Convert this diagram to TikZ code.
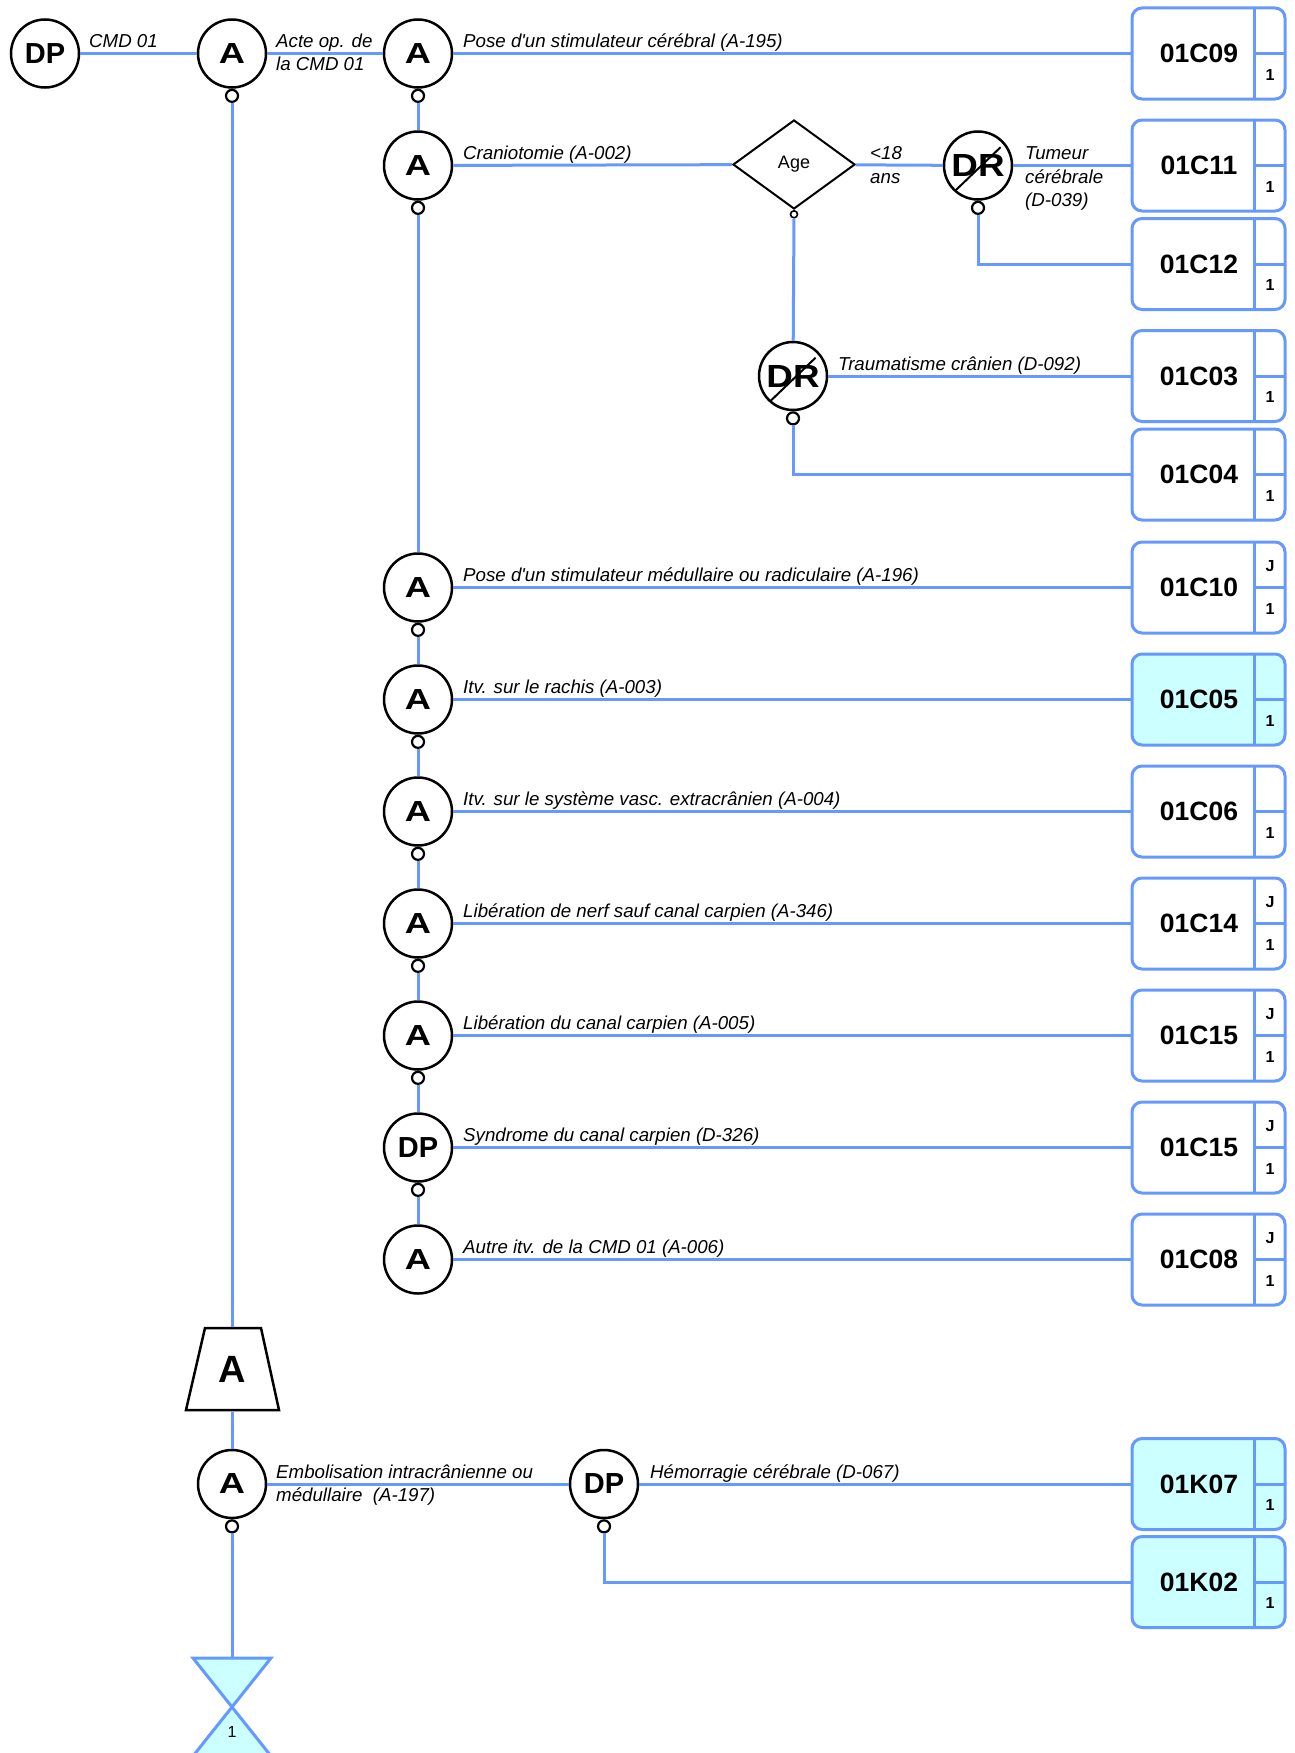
\documentclass[tikz,border=0pt]{standalone}
\usepackage{fontspec}
\usepackage{graphicx}
\setmainfont{Liberation Sans}
\usetikzlibrary{shapes.geometric,calc}
\definecolor{lb}{HTML}{6699FF}
\definecolor{cy}{HTML}{CCFFFF}
\newcommand\gbx[5]{%
  \node[gbox, fill=#5] (#1) at (1208.5,#2) {};
  \draw[boxline] (1254,{#2-45.5}) -- (1254,{#2+45.5});
  \draw[boxline] (1254,#2) -- (1285,#2);
  \node[boxtxt] (#1-t) at (1199,#2) {#3};
  \node[smalltxt] (#1-n) at (1270,{#2+21}) {1};
  \node[smalltxt] (#1-j) at (1270,{#2-21}) {#4};
}
\newcommand\Aletter{\scalebox{1.25}[1]{A}}
\newcommand\DRletters{\scalebox{1.15}[1]{DR}}
\begin{document}
\begin{tikzpicture}[x=1pt,y=-1pt,
  conn/.style={draw=lb, line width=3pt},
  boxline/.style={draw=lb, line width=3pt},
  anode/.style={circle, draw=black, line width=2.5pt, minimum size=68pt, inner sep=0pt, fill=white, font=\fontsize{29}{29}\selectfont\bfseries},
  drnode/.style={anode, font=\fontsize{32}{32}\selectfont\bfseries},
  knob/.style={circle, draw=black, line width=2.2pt, minimum size=12pt, inner sep=0pt, fill=white, anchor=north},
  tinyknob/.style={circle, draw=black, line width=1.6pt, minimum size=7pt, inner sep=0pt, fill=white, anchor=north},
  lab/.style={anchor=base west, inner sep=0pt, font=\fontsize{18.7}{23.5}\selectfont\itshape},
  gbox/.style={draw=lb, line width=3pt, rounded corners=10pt, minimum width=153pt, minimum height=91pt, inner sep=0pt},
  boxtxt/.style={inner sep=0pt, font=\fontsize{26.5}{27}\selectfont\bfseries},
  smalltxt/.style={inner sep=0pt, font=\fontsize{16}{16}\selectfont\bfseries},
  slash/.style={draw=black, line width=2pt}
]
\useasboundingbox[fill=white] (0,0) rectangle (1295,1753);

% ---------- boxes ----------
\gbx{b09}{53.5}{01C09}{\mbox{}}{white}
\gbx{b11}{165.5}{01C11}{\mbox{}}{white}
\gbx{b12}{264}{01C12}{\mbox{}}{white}
\gbx{b03}{376}{01C03}{\mbox{}}{white}
\gbx{b04}{474.5}{01C04}{\mbox{}}{white}
\gbx{b10}{587.5}{01C10}{J}{white}
\gbx{b05}{699.5}{01C05}{\mbox{}}{cy}
\gbx{b06}{811.5}{01C06}{\mbox{}}{white}
\gbx{b14}{923.5}{01C14}{J}{white}
\gbx{b15a}{1035.5}{01C15}{J}{white}
\gbx{b15b}{1147.5}{01C15}{J}{white}
\gbx{b08}{1259.5}{01C08}{J}{white}
\gbx{bk07}{1484}{01K07}{\mbox{}}{cy}
\gbx{bk02}{1582}{01K02}{\mbox{}}{cy}

% ---------- top row ----------
\node[anode] (dp0) at (45,53.5) {DP};
\node[anode] (a1) at (232,53.5) {\Aletter};
\node[knob] (a1k) at (a1.south) {};
\node[anode] (a2) at (418,53.5) {\Aletter};
\node[knob] (a2k) at (a2.south) {};
\draw[conn] (dp0) -- (a1);
\draw[conn] (a1) -- (a2);
\draw[conn] (a2) -- (b09);
\node[lab] (l0) at (89,47.5) {CMD 01};
\node[lab] (l1) at (276,47.5) {\begin{tabular}[t]{@{}l@{}}Acte op. de\\la CMD 01\end{tabular}};
\node[lab] (l2) at (463,47.5) {Pose d\textquotesingle un stimulateur cérébral (A-195)};

% ---------- craniotomie ----------
\node[anode] (a3) at (418,165.5) {\Aletter};
\node[knob] (a3k) at (a3.south) {};
\node[diamond, draw=black, line width=2pt, minimum width=122pt, minimum height=89pt, inner sep=0pt, fill=white, font=\fontsize{18}{18}\selectfont] (dia) at (794,164.5) {Age};
\node[tinyknob] (diak) at (dia.south) {};
\node[drnode] (dr1) at (978,165.5) {\DRletters};
\draw[slash] ($(dr1)+(-132:33pt)$) -- ($(dr1)+(39:29pt)$);
\node[knob] (dr1k) at (dr1.south) {};
\draw[conn] (a2k) -- (a3);
\draw[conn] (a3) -- (dia);
\draw[conn] (dia) -- (dr1);
\draw[conn] (dr1) -- (b11);
\draw[conn] (dr1k) |- (b12);
\node[lab] (l3) at (463,159.5) {Craniotomie (A-002)};
\node[lab] (l4) at (870,159.5) {\begin{tabular}[t]{@{}l@{}}<18\\ans\end{tabular}};
\node[lab] (l5) at (1025,159.5) {\begin{tabular}[t]{@{}l@{}}Tumeur\\cérébrale\\(D-039)\end{tabular}};

\node[drnode] (dr2) at (793,376) {\DRletters};
\draw[slash] ($(dr2)+(-132:33pt)$) -- ($(dr2)+(39:29pt)$);
\node[knob] (dr2k) at (dr2.south) {};
\draw[conn] (diak) -- (dr2);
\draw[conn] (dr2) -- (b03);
\draw[conn] (dr2k) |- (b04);
\node[lab] (l6) at (838,370) {Traumatisme crânien (D-092)};

% ---------- chain ----------
\node[anode] (c1) at (418,587.5) {\Aletter};
\node[knob] (c1k) at (c1.south) {};
\node[anode] (c2) at (418,699.5) {\Aletter};
\node[knob] (c2k) at (c2.south) {};
\node[anode] (c3) at (418,811.5) {\Aletter};
\node[knob] (c3k) at (c3.south) {};
\node[anode] (c4) at (418,923.5) {\Aletter};
\node[knob] (c4k) at (c4.south) {};
\node[anode] (c5) at (418,1035.5) {\Aletter};
\node[knob] (c5k) at (c5.south) {};
\node[anode] (c6) at (418,1147.5) {DP};
\node[knob] (c6k) at (c6.south) {};
\node[anode] (c7) at (418,1259.5) {\Aletter};
\draw[conn] (a3k) -- (c1);
\draw[conn] (c1k) -- (c2);
\draw[conn] (c2k) -- (c3);
\draw[conn] (c3k) -- (c4);
\draw[conn] (c4k) -- (c5);
\draw[conn] (c5k) -- (c6);
\draw[conn] (c6k) -- (c7);
\draw[conn] (c1) -- (b10);
\draw[conn] (c2) -- (b05);
\draw[conn] (c3) -- (b06);
\draw[conn] (c4) -- (b14);
\draw[conn] (c5) -- (b15a);
\draw[conn] (c6) -- (b15b);
\draw[conn] (c7) -- (b08);
\node[lab] (m1) at (463,581.5) {Pose d\textquotesingle un stimulateur médullaire ou radiculaire (A-196)};
\node[lab] (m2) at (463,693.5) {Itv. sur le rachis (A-003)};
\node[lab] (m3) at (463,805.5) {Itv. sur le système vasc. extracrânien (A-004)};
\node[lab] (m4) at (463,917.5) {Libération de nerf sauf canal carpien (A-346)};
\node[lab] (m5) at (463,1029.5) {Libération du canal carpien (A-005)};
\node[lab] (m6) at (463,1141.5) {Syndrome du canal carpien (D-326)};
\node[lab] (m7) at (463,1253.5) {Autre itv. de la CMD 01 (A-006)};

% ---------- trapezoid ----------
\draw[black, line width=2.5pt, fill=white] (205,1328) -- (261,1328) -- (279,1410) -- (186,1410) -- cycle;
\node[inner sep=0pt, font=\fontsize{38}{38}\selectfont\bfseries] (trapA) at (232,1369) {A};
\coordinate (trapN) at (232,1326.5);
\coordinate (trapS) at (232,1411.5);
\draw[conn] (a1k) -- (trapN);

% ---------- bottom ----------
\node[anode] (a197) at (232,1484) {\Aletter};
\node[knob] (a197k) at (a197.south) {};
\node[anode] (dp67) at (604,1484) {DP};
\node[knob] (dp67k) at (dp67.south) {};
\draw[conn] (trapS) -- (a197);
\draw[conn] (a197) -- (dp67);
\draw[conn] (dp67) -- (bk07);
\draw[conn] (dp67k) |- (bk02);
\node[lab] (n1) at (276,1478) {\begin{tabular}[t]{@{}l@{}}Embolisation intracrânienne ou\\médullaire~ (A-197)\end{tabular}};
\node[lab] (n2) at (650,1478) {Hémorragie cérébrale (D-067)};

% ---------- hourglass ----------
\coordinate (hgN) at (232,1658);
\draw[draw=lb, line width=3pt, fill=cy, line join=miter] (193,1658) -- (271,1658) -- (193,1756) -- (271,1756) -- cycle;
\node[inner sep=0pt, font=\fontsize{16}{16}\selectfont] (hg1) at (232,1732) {1};
\draw[conn] (a197k) -- (hgN);
\end{tikzpicture}
\end{document}
